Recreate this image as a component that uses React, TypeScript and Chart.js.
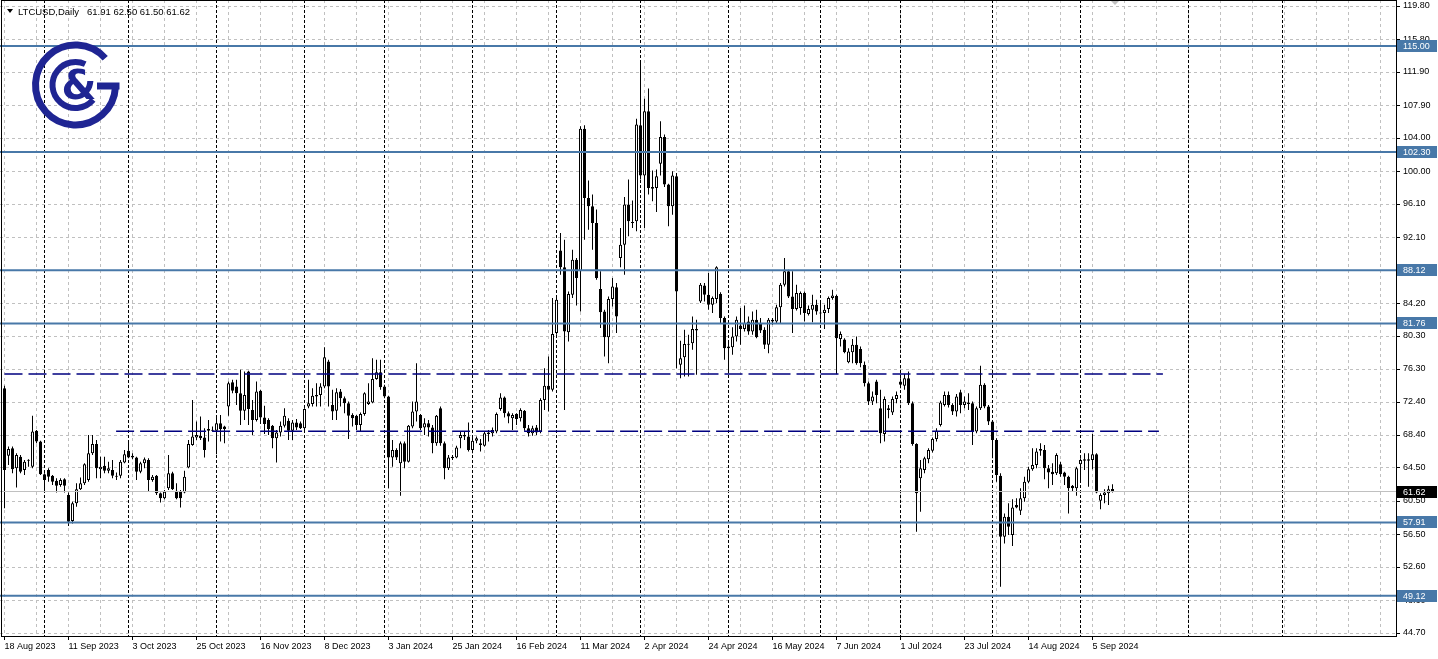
import React, { useEffect, useRef } from 'react';
import { Chart, registerables } from 'chart.js';

Chart.register(...registerables);

// ---- LTCUSD daily candles (weekday bars) ----
const OPEN = [
  74.0, 65.9, 66.8, 64.4, 65.8, 64.2, 65.3, 64.6, 68.9, 67.6,
  63.7, 64.2, 63.5, 62.9, 62.4, 63.1, 61.2, 58.1, 60.2, 61.9,
  62.6, 63.0, 66.2, 67.3, 64.3, 64.7, 64.1, 64.2, 63.5, 63.5,
  65.1, 66.5, 65.7, 65.7, 64.0, 65.0, 65.4, 63.0, 63.5, 61.4,
  60.8, 62.0, 63.8, 61.7, 61.6, 61.5, 64.5, 67.2, 68.1, 68.3,
  68.1, 68.9, 69.0, 68.9, 69.8, 69.4, 71.8, 74.7, 74.2, 73.4,
  71.3, 76.0, 71.4, 70.2, 73.7, 70.5, 70.2, 69.5, 68.0, 68.7,
  69.5, 70.1, 68.9, 69.9, 69.8, 69.2, 71.8, 72.1, 73.0, 73.2,
  74.2, 77.2, 72.0, 71.3, 73.6, 72.8, 72.2, 70.8, 70.7, 69.6,
  70.9, 72.1, 72.3, 75.1, 75.9, 74.2, 73.0, 65.7, 66.6, 65.0,
  67.4, 65.2, 69.4, 71.2, 70.8, 69.3, 69.8, 69.3, 67.4, 71.6,
  67.4, 64.4, 65.6, 65.7, 68.0, 68.2, 68.2, 66.6, 67.7, 67.4,
  67.1, 68.5, 68.6, 68.8, 71.5, 72.9, 71.0, 70.4, 70.9, 70.4,
  71.3, 69.2, 68.6, 69.3, 68.8, 72.6, 74.3, 73.8, 80.6, 90.5,
  88.5, 80.7, 85.2, 89.4, 88.0, 105.1, 96.8, 95.8, 93.8, 85.9,
  83.2, 80.1, 84.7, 86.1, 89.6, 91.2, 96.0, 93.9, 94.0, 105.5,
  99.5, 107.2, 97.9, 98.0, 100.9, 104.1, 98.4, 95.8, 99.4, 76.8,
  77.7, 79.3, 79.4, 81.1, 84.4, 86.3, 85.2, 84.0, 84.7, 85.3,
  82.4, 78.8, 78.9, 80.2, 81.5, 81.1, 82.0, 80.8, 82.2, 81.7,
  81.0, 79.2, 82.2, 82.0, 83.7, 86.4, 88.0, 85.0, 83.5, 83.6,
  85.4, 82.9, 83.4, 84.0, 83.05, 83.0, 83.5, 84.8, 85.05, 79.9,
  79.85, 77.1, 78.3, 79.2, 78.7, 76.8, 74.6, 72.4, 74.8, 71.6,
  68.5, 71.6, 71.1, 72.7, 74.8, 74.3, 75.2, 72.2, 67.3, 63.2,
  64.2, 65.5, 66.5, 67.9, 69.6, 72.0, 73.2, 72.0, 71.2, 73.5,
  72.0, 72.3, 72.2, 68.8, 71.6, 74.4, 71.8, 70.0, 67.8, 63.5,
  56.2, 58.6, 56.4, 60.0, 59.3, 60.8, 62.8, 64.3, 64.8, 66.5,
  66.6, 64.4, 64.0, 63.8, 64.9, 63.9, 63.4, 62.3, 62.0, 64.9,
  65.5, 65.3, 65.4, 66.1, 60.5, 61.2, 61.4, 61.91,
];

const HIGH = [
  74.3, 67.0, 67.0, 66.2, 66.0, 65.4, 65.5, 70.7, 69.0, 67.7,
  63.8, 64.4, 63.6, 63.2, 63.2, 63.2, 61.5, 60.4, 62.6, 63.3,
  65.0, 68.4, 68.4, 67.8, 65.8, 65.8, 65.2, 65.4, 63.9, 65.4,
  66.6, 67.8, 66.2, 65.8, 65.2, 65.7, 65.6, 63.6, 63.6, 61.5,
  61.8, 66.0, 64.0, 62.6, 61.8, 64.1, 67.8, 72.6, 70.0, 70.6,
  69.2, 70.2, 69.4, 70.5, 70.8, 69.5, 74.8, 75.0, 75.0, 76.2,
  76.0, 76.1, 72.6, 74.8, 73.8, 71.9, 70.4, 69.6, 69.0, 70.0,
  71.6, 70.4, 70.2, 70.3, 70.0, 71.6, 75.0, 74.0, 74.6, 74.6,
  78.9, 77.4, 73.8, 74.0, 73.9, 73.0, 72.4, 71.0, 70.8, 71.1,
  73.5, 74.6, 77.6, 77.4, 77.4, 74.4, 73.1, 67.8, 66.8, 67.6,
  67.6, 69.6, 72.4, 77.0, 70.9, 70.4, 70.2, 69.6, 70.8, 71.8,
  67.6, 66.0, 66.0, 67.1, 68.8, 68.8, 69.9, 68.1, 68.2, 67.9,
  68.8, 69.0, 69.3, 71.1, 73.4, 73.0, 71.2, 71.0, 71.0, 71.6,
  71.4, 69.6, 69.5, 69.6, 72.8, 76.4, 77.8, 84.8, 85.0, 92.6,
  91.8, 85.6, 90.6, 89.6, 105.4, 105.5, 98.9, 97.2, 95.4, 88.0,
  83.4, 85.0, 87.2, 86.6, 93.2, 96.9, 99.0, 96.5, 106.3, 113.1,
  108.7, 109.9, 100.1, 100.2, 106.0, 104.4, 98.5, 100.0, 99.8, 79.7,
  81.0, 80.4, 82.6, 82.2, 86.6, 86.6, 87.8, 85.0, 88.6, 85.5,
  82.6, 79.6, 81.3, 82.6, 83.6, 83.9, 82.6, 83.2, 83.4, 82.4,
  81.3, 82.4, 82.4, 84.0, 86.6, 89.6, 88.2, 88.0, 86.4, 85.6,
  85.6, 83.9, 85.2, 84.6, 84.4, 84.0, 85.0, 85.8, 85.2, 80.8,
  80.0, 78.8, 79.9, 80.2, 79.0, 77.2, 74.8, 73.6, 75.0, 73.8,
  73.0, 72.0, 73.0, 73.6, 75.2, 75.7, 76.0, 72.4, 67.4, 65.4,
  65.8, 66.8, 68.1, 69.2, 72.5, 73.6, 73.6, 72.2, 73.3, 73.8,
  73.0, 73.4, 72.4, 71.8, 76.7, 74.6, 72.0, 70.2, 68.0, 63.8,
  59.0, 60.2, 60.7, 60.8, 62.0, 63.4, 64.6, 66.8, 66.8, 67.4,
  67.2, 64.8, 65.0, 66.2, 65.2, 64.0, 63.5, 62.4, 64.6, 65.6,
  66.2, 66.2, 68.5, 66.2, 61.4, 61.9, 62.3, 62.5,
];

const LOW = [
  59.6, 64.8, 63.8, 62.1, 63.8, 63.6, 64.6, 64.4, 67.4, 63.6,
  61.8, 62.8, 62.4, 61.5, 62.2, 61.5, 57.5, 57.8, 59.8, 61.8,
  62.4, 62.8, 66.0, 63.2, 63.2, 63.8, 63.8, 63.2, 63.0, 63.2,
  65.0, 65.6, 65.5, 63.0, 63.8, 64.4, 61.6, 62.8, 61.2, 60.3,
  60.7, 61.8, 61.8, 60.7, 59.7, 61.4, 64.4, 67.1, 67.8, 67.8,
  65.7, 67.6, 68.8, 66.1, 67.6, 67.4, 70.7, 73.4, 72.0, 69.6,
  70.2, 69.6, 68.4, 70.0, 69.7, 68.5, 68.4, 66.8, 65.1, 68.2,
  69.3, 67.8, 67.8, 69.0, 69.1, 69.0, 71.6, 71.8, 71.8, 71.8,
  74.0, 71.8, 70.2, 70.2, 71.8, 71.0, 67.9, 69.4, 69.0, 68.8,
  70.7, 72.0, 72.2, 75.0, 73.8, 72.8, 62.0, 64.6, 65.4, 61.1,
  64.4, 65.1, 69.2, 70.0, 69.0, 68.4, 68.2, 66.2, 67.1, 67.1,
  63.1, 64.2, 65.4, 65.6, 66.8, 67.8, 66.4, 66.2, 67.4, 66.4,
  67.0, 67.6, 68.2, 68.6, 71.3, 70.5, 69.8, 69.0, 69.6, 70.0,
  68.9, 68.2, 68.3, 68.4, 68.6, 71.4, 71.2, 73.6, 80.4, 87.6,
  71.4, 79.6, 84.8, 83.9, 83.2, 91.8, 93.0, 90.6, 87.0, 81.2,
  77.8, 77.0, 83.8, 80.6, 88.5, 87.6, 92.2, 93.2, 92.8, 99.0,
  93.2, 97.2, 96.4, 95.1, 99.5, 98.1, 93.4, 94.8, 76.4, 75.2,
  75.4, 75.4, 78.6, 75.6, 84.2, 84.4, 83.4, 83.0, 84.2, 81.8,
  77.4, 75.8, 78.0, 79.6, 79.2, 80.8, 80.4, 80.4, 80.0, 80.6,
  78.7, 78.2, 81.6, 81.8, 81.8, 86.2, 84.8, 80.6, 83.3, 82.8,
  82.0, 82.7, 81.9, 82.8, 82.2, 81.1, 83.0, 84.6, 75.7, 79.0,
  78.2, 77.0, 77.0, 76.8, 76.5, 74.2, 72.0, 72.0, 72.2, 67.4,
  67.6, 70.4, 70.8, 72.2, 74.0, 73.8, 72.0, 67.1, 56.8, 59.2,
  63.8, 65.0, 66.3, 67.6, 69.4, 71.8, 71.7, 70.8, 70.6, 71.0,
  71.6, 71.4, 67.2, 68.6, 71.4, 71.6, 69.6, 65.6, 62.8, 50.2,
  55.4, 56.4, 55.1, 59.6, 58.8, 60.4, 62.6, 64.1, 64.4, 65.9,
  63.1, 62.0, 62.4, 63.6, 63.4, 62.4, 59.0, 61.6, 61.1, 63.0,
  64.2, 62.2, 64.3, 61.4, 59.5, 60.2, 60.0, 61.5,
];

const CLOSE = [
  64.2, 66.7, 64.3, 66.0, 64.0, 65.2, 65.3, 68.8, 67.6, 63.7,
  63.0, 63.4, 62.8, 62.3, 63.0, 62.3, 58.0, 60.2, 61.9, 62.6,
  64.9, 66.2, 67.3, 64.4, 64.6, 64.1, 64.4, 63.5, 63.4, 65.2,
  66.1, 65.7, 65.9, 64.0, 65.0, 65.5, 63.0, 63.4, 61.4, 60.8,
  61.6, 63.8, 61.9, 60.8, 60.8, 63.4, 67.3, 68.2, 68.4, 68.0,
  66.6, 69.1, 68.9, 69.8, 69.1, 69.1, 74.6, 73.7, 73.4, 71.3,
  73.2, 71.5, 70.2, 73.6, 70.5, 69.7, 69.1, 68.0, 68.7, 69.5,
  70.7, 68.9, 69.9, 69.3, 69.2, 71.5, 72.2, 73.1, 73.2, 74.2,
  77.7, 74.2, 71.2, 73.5, 72.8, 72.2, 70.7, 70.4, 69.6, 70.9,
  73.4, 72.4, 75.1, 75.9, 74.1, 73.0, 65.7, 66.6, 65.7, 67.4,
  65.2, 69.5, 71.2, 72.4, 69.2, 69.8, 69.3, 67.4, 70.7, 67.4,
  64.4, 65.7, 65.8, 66.9, 68.4, 68.4, 66.6, 67.7, 68.0, 67.2,
  68.6, 68.7, 69.0, 70.9, 72.9, 71.0, 70.6, 70.8, 70.3, 71.4,
  69.2, 68.6, 69.2, 68.7, 72.6, 74.3, 73.8, 80.5, 84.6, 88.5,
  80.8, 85.3, 89.4, 87.2, 105.1, 96.8, 95.8, 93.8, 87.2, 83.1,
  80.1, 84.7, 86.2, 82.6, 91.2, 96.0, 94.0, 93.8, 105.6, 99.5,
  107.2, 98.0, 98.1, 99.4, 104.1, 98.4, 95.8, 99.5, 85.6, 77.6,
  79.3, 79.2, 81.1, 80.9, 86.4, 85.2, 84.0, 84.8, 88.5, 82.4,
  78.8, 79.0, 80.2, 82.2, 81.1, 81.8, 80.8, 82.2, 80.1, 80.9,
  79.2, 82.2, 82.0, 83.7, 86.4, 88.0, 85.0, 83.5, 85.4, 85.4,
  83.0, 83.5, 84.0, 83.2, 82.95, 83.4, 84.8, 85.1, 80.0, 80.5,
  78.3, 78.4, 79.2, 77.0, 77.0, 74.6, 72.4, 73.0, 73.2, 68.6,
  72.7, 71.4, 72.7, 73.2, 74.4, 75.2, 72.2, 67.3, 61.4, 64.4,
  65.6, 66.6, 67.9, 68.9, 72.3, 73.2, 72.0, 71.2, 73.0, 72.0,
  72.4, 72.1, 68.8, 71.6, 74.4, 71.8, 70.0, 67.8, 63.6, 56.2,
  58.6, 57.4, 59.7, 59.7, 60.8, 62.8, 64.3, 64.8, 66.4, 66.7,
  64.4, 63.9, 63.7, 66.0, 63.7, 63.4, 62.0, 62.0, 64.4, 65.4,
  65.3, 65.5, 66.1, 61.5, 61.2, 61.5, 61.9, 61.62,
];

// x-axis labels: one every 16 bars, starting at bar 0
const DATE_LABELS = [
  '18 Aug 2023', '11 Sep 2023', '3 Oct 2023', '25 Oct 2023', '16 Nov 2023', '8 Dec 2023',
  '3 Jan 2024', '25 Jan 2024', '16 Feb 2024', '11 Mar 2024', '2 Apr 2024', '24 Apr 2024',
  '16 May 2024', '7 Jun 2024', '1 Jul 2024', '23 Jul 2024', '14 Aug 2024', '5 Sep 2024',
];
const LABEL_STEP = 16;
const GRID_STEP = 8;

// bars where a new month starts (period separators)
const MONTH_STARTS = [10, 31, 53, 75, 95, 117, 138, 159, 181, 204, 224, 247, 269, 296, 319.4];

const Y_TICKS = [
  119.8, 115.8, 111.9, 107.9, 104.0, 100.0, 96.1, 92.1, 88.2, 84.2,
  80.3, 76.3, 72.4, 68.4, 64.5, 60.5, 56.5, 52.6, 48.6, 44.7,
];

// horizontal levels (solid), dashed levels with their bar spans, bid price
const LEVELS = [115.0, 102.3, 88.12, 81.76, 57.91, 49.12];
const DASH_LEVELS = [75.7, 68.85];
const DASH_FROM = [0, 27.9];
const DASH_TO = [289.6, 288.6];
const BID = 61.62;

const TITLE = 'LTCUSD,Daily';
const TITLE_VALUES = '61.91 62.50 61.50 61.62';

const BLUE = '#4878a8';
const NAVY = '#000080';
const GRID = '#c0c0c0';
const LOGO = '#1f2593';
const FONT = '"Liberation Sans", Arial, sans-serif';

export default function App() {
  const ref = useRef<HTMLCanvasElement>(null);

  useEffect(() => {
    const canvas = ref.current;
    if (!canvas) return;
    document.body.style.margin = '0';

    const W = 1438;
    const H = 659;
    const AXIS_W = 42;
    const AXIS_H = 23;
    const PLOT_W = W - AXIS_W;
    const PLOT_H = H - AXIS_H;
    const PX_PER_BAR = 4;
    const X_MIN = -1.125;
    const X_MAX = X_MIN + PLOT_W / PX_PER_BAR;
    const PX_PER_UNIT = 8.345;
    const Y_MAX = Y_TICKS[0] + 6 / PX_PER_UNIT;
    const Y_MIN = Y_TICKS[0] - (PLOT_H - 6) / PX_PER_UNIT;

    const n = Math.min(OPEN.length, HIGH.length, LOW.length, CLOSE.length);
    const idx = Array.from({ length: n }, (_, i) => i);
    const bodies = idx.map((i) => ({ x: i, y: [OPEN[i], CLOSE[i]] }));
    const wicks = idx.map((i) => ({ x: i, y: [LOW[i], HIGH[i]] }));
    const bodyFill = idx.map((i) => (CLOSE[i] >= OPEN[i] ? '#ffffff' : '#000000'));
    const labelIdx = DATE_LABELS.map((_, k) => k * LABEL_STEP);

    const levelSets = LEVELS.map((v) => ({
      type: 'line' as const,
      data: [{ x: X_MIN, y: v }, { x: X_MAX, y: v }],
      borderColor: BLUE,
      borderWidth: 2,
      pointRadius: 0,
      fill: false,
      order: 1,
    }));
    const dashSets = DASH_LEVELS.map((v, k) => ({
      type: 'line' as const,
      data: [{ x: DASH_FROM[k], y: v }, { x: DASH_TO[k], y: v }],
      borderColor: NAVY,
      borderWidth: 1.5,
      borderDash: [18, 6],
      pointRadius: 0,
      fill: false,
      order: 1,
    }));
    const bidSet = {
      type: 'line' as const,
      data: [{ x: X_MIN, y: BID }, { x: X_MAX, y: BID }],
      borderColor: GRID,
      borderWidth: 1,
      pointRadius: 0,
      fill: false,
      order: 1,
    };

    const line = (ctx: CanvasRenderingContext2D, x1: number, y1: number, x2: number, y2: number) => {
      ctx.beginPath();
      ctx.moveTo(x1, y1);
      ctx.lineTo(x2, y2);
      ctx.stroke();
    };
    const rad = (d: number) => (d * Math.PI) / 180;

    const decor = {
      id: 'mtDecor',
      beforeDatasetsDraw(chart: any) {
        const { ctx, chartArea: a, scales } = chart;
        const xs = scales.x;
        const ys = scales.y;
        ctx.save();
        ctx.lineWidth = 1;
        ctx.strokeStyle = GRID;
        ctx.setLineDash([3, 3]);
        Y_TICKS.forEach((v) => {
          const py = Math.round(ys.getPixelForValue(v)) + 0.5;
          line(ctx, a.left, py, a.right, py);
        });
        for (let i = 0; xs.getPixelForValue(i) < a.right; i += GRID_STEP) {
          const px = Math.floor(xs.getPixelForValue(i)) + 0.5;
          line(ctx, px, a.top, px, a.bottom);
        }
        ctx.strokeStyle = '#000000';
        ctx.setLineDash([3, 2]);
        MONTH_STARTS.forEach((i) => {
          const px = Math.floor(xs.getPixelForValue(i)) + 0.5;
          line(ctx, px, a.top, px, a.bottom);
        });
        ctx.restore();
      },
      afterDraw(chart: any) {
        const { ctx, chartArea: a, scales } = chart;
        const xs = scales.x;
        const ys = scales.y;
        ctx.save();
        // frame
        ctx.strokeStyle = '#000000';
        ctx.lineWidth = 1;
        ctx.setLineDash([]);
        ctx.strokeRect(a.left + 1.5, a.top + 0.5, a.right - a.left - 1, a.bottom - a.top);
        // axis tick marks
        Y_TICKS.forEach((v) => {
          const py = Math.round(ys.getPixelForValue(v)) + 0.5;
          line(ctx, a.right, py, a.right + 4, py);
        });
        labelIdx.forEach((i) => {
          const px = Math.floor(xs.getPixelForValue(i)) + 0.5;
          line(ctx, px, a.bottom, px, a.bottom + 4);
        });
        // price boxes on the axis
        ctx.font = `9px ${FONT}`;
        ctx.textBaseline = 'middle';
        ctx.textAlign = 'left';
        const box = (v: number, bg: string) => {
          const py = Math.round(ys.getPixelForValue(v));
          ctx.fillStyle = bg;
          ctx.fillRect(a.right + 1, py - 6, W - a.right - 2, 12);
          ctx.fillStyle = '#ffffff';
          ctx.fillText(v.toFixed(2), a.right + 7, py + 0.5);
        };
        LEVELS.forEach((v) => box(v, BLUE));
        box(BID, '#000000');
        // title
        ctx.fillStyle = '#000000';
        ctx.beginPath();
        ctx.moveTo(7, 9);
        ctx.lineTo(13, 9);
        ctx.lineTo(10, 13);
        ctx.closePath();
        ctx.fill();
        ctx.textBaseline = 'alphabetic';
        ctx.font = `9.5px ${FONT}`;
        ctx.fillText(TITLE, 18, 14.5);
        ctx.fillText(TITLE_VALUES, 87, 14.5);
        // chart-shift marker
        ctx.fillStyle = GRID;
        ctx.beginPath();
        ctx.moveTo(1111, 1);
        ctx.lineTo(1119, 1);
        ctx.lineTo(1115, 5);
        ctx.closePath();
        ctx.fill();
        // logo
        const cx = 75.5;
        const cy = 85;
        ctx.strokeStyle = LOGO;
        ctx.fillStyle = LOGO;
        ctx.lineCap = 'butt';
        ctx.lineWidth = 7;
        ctx.beginPath();
        ctx.arc(cx, cy, 40, rad(3), rad(318), false);
        ctx.stroke();
        ctx.fillRect(97, 82.5, 22.5, 7);
        ctx.lineWidth = 6;
        ctx.beginPath();
        ctx.arc(cx, cy, 23, rad(40), rad(295), false);
        ctx.stroke();
        ctx.font = 'bold 40px "DejaVu Sans", sans-serif';
        ctx.textAlign = 'center';
        ctx.fillText('&', 79, 99);
        ctx.restore();
      },
    };

    const chart = new Chart(canvas, {
      type: 'bar',
      data: {
        datasets: [
          ...levelSets,
          ...dashSets,
          bidSet,
          {
            type: 'bar',
            data: bodies,
            backgroundColor: bodyFill,
            borderColor: '#000000',
            borderWidth: 1,
            borderSkipped: false,
            barThickness: 3,
            grouped: false,
            inflateAmount: 0,
            minBarLength: 1,
            order: 2,
          },
          {
            type: 'bar',
            data: wicks,
            backgroundColor: '#000000',
            borderWidth: 0,
            barThickness: 1,
            grouped: false,
            inflateAmount: 0,
            order: 3,
          },
        ] as any,
      },
      options: {
        responsive: false,
        animation: false,
        events: [],
        layout: { padding: 0, autoPadding: false },
        plugins: {
          legend: { display: false },
          tooltip: { enabled: false },
          title: { display: false },
        },
        scales: {
          x: {
            type: 'linear',
            min: X_MIN,
            max: X_MAX,
            offset: false,
            grid: { display: false, drawTicks: false },
            border: { display: false },
            ticks: {
              autoSkip: false,
              maxRotation: 0,
              minRotation: 0,
              align: 'start',
              padding: 5,
              color: '#000000',
              font: { family: FONT, size: 9 },
              callback: (_v: any, k: number) => DATE_LABELS[k] ?? '',
            },
            afterBuildTicks: (scale: any) => {
              scale.ticks = labelIdx.map((i) => ({ value: i }));
            },
            afterFit: (scale: any) => {
              scale.height = AXIS_H;
              scale.paddingLeft = 0;
              scale.paddingRight = 0;
              scale.paddingTop = 0;
              scale.paddingBottom = 0;
            },
          },
          y: {
            type: 'linear',
            position: 'right',
            min: Y_MIN,
            max: Y_MAX,
            grid: { display: false, drawTicks: false },
            border: { display: false },
            ticks: {
              autoSkip: false,
              padding: 7,
              color: '#000000',
              font: { family: FONT, size: 9 },
              callback: (v: any) => Number(v).toFixed(2),
            },
            afterBuildTicks: (scale: any) => {
              scale.ticks = Y_TICKS.map((v) => ({ value: v }));
            },
            afterFit: (scale: any) => {
              scale.width = AXIS_W;
              scale.paddingLeft = 0;
              scale.paddingRight = 0;
              scale.paddingTop = 0;
              scale.paddingBottom = 0;
            },
          },
        },
      } as any,
      plugins: [decor],
    });

    return () => chart.destroy();
  }, []);

  return (
    <div style={{ position: 'absolute', left: 0, top: 0, width: 1438, height: 659, background: '#ffffff' }}>
      <canvas ref={ref} width={1438} height={659} style={{ display: 'block' }} />
    </div>
  );
}
